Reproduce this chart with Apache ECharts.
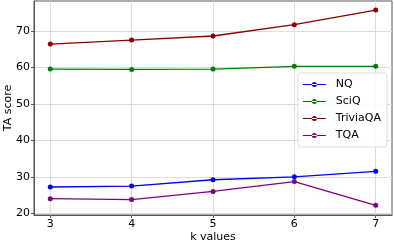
<!DOCTYPE html>
<html><head><meta charset="utf-8">
<script src="https://cdn.jsdelivr.net/npm/echarts@6/dist/echarts.min.js"></script>
<style>html,body{margin:0;padding:0;background:#fff}#c{width:394px;height:244px}</style>
</head><body><div id="c"></div>
<script>
const kValues = [3, 4, 5, 6, 7];
const nq = [27.2, 27.45, 29.2, 30.0, 31.5];
const sciq = [59.55, 59.45, 59.55, 60.3, 60.3];
const triviaqa = [66.4, 67.5, 68.6, 71.7, 75.7];
const tqa = [24.0, 23.75, 26.0, 28.7, 22.2];
const yTicks = [20, 30, 40, 50, 60, 70];
const seriesNames = ['NQ', 'SciQ', 'TriviaQA', 'TQA'];
const seriesColors = ['#0000ff', '#008000', '#8b0000', '#800080'];
const seriesData = [nq, sciq, triviaqa, tqa];

const font = 'DejaVu Sans';
const legendIcon = 'path://M0,2 L23,2 L23,3.2 L0,3.2 Z M9,2.6 A2.5,2.5 0 1,0 14,2.6 A2.5,2.5 0 1,0 9,2.6 Z M0,0 L0.01,0 L0.01,0.01 Z M0,5.2 L0.01,5.2 L0.01,5.19 Z';
const chart = echarts.init(document.getElementById('c'));
chart.setOption({
  animation: false,
  textStyle: {fontFamily: font},
  grid: {left: 34, right: 2, top: 1, bottom: 29, outerBoundsMode: 'none', containLabel: false,
         show: true, borderColor: '#555', borderWidth: 1, backgroundColor: 'transparent'},
  legend: {
    right: 7, top: 73, orient: 'vertical', itemGap: 6, itemWidth: 23, itemHeight: 5.2,
    backgroundColor: 'rgba(255,255,255,0.85)', borderColor: '#ddd', borderWidth: 1, borderRadius: 3,
    padding: [6, 6, 6, 5],
    textStyle: {fontFamily: font, fontSize: 11, color: '#000', padding: [0, 0, 0, 5]},
    data: seriesNames.map(n => ({name: n, icon: legendIcon}))
  },
  xAxis: {
    type: 'value', min: 2.8, max: 7.2,
    name: 'k values', nameLocation: 'middle', nameGap: 17, nameMoveOverlap: false,
    nameTextStyle: {fontFamily: font, fontSize: 11, color: '#000'},
    axisLine: {show: true, onZero: false, lineStyle: {color: '#555', width: 1}},
    axisTick: {show: true, length: 3, customValues: kValues, lineStyle: {color: '#555'}},
    axisLabel: {customValues: kValues, fontFamily: font, fontSize: 11, color: '#000', margin: 4},
    splitLine: {show: true, lineStyle: {color: '#dcdcdc', width: 1}}
  },
  yAxis: {
    type: 'value', min: 19.53, max: 78.2,
    name: 'TA score', nameLocation: 'middle', nameGap: 26, nameMoveOverlap: false,
    nameTextStyle: {fontFamily: font, fontSize: 11, color: '#000', verticalAlign: 'middle'},
    axisLine: {show: true, lineStyle: {color: '#555', width: 1}},
    axisTick: {show: true, length: 3, customValues: yTicks, lineStyle: {color: '#555'}},
    axisLabel: {customValues: yTicks, fontFamily: font, fontSize: 11, color: '#000', margin: 4},
    splitLine: {show: true, lineStyle: {color: '#dcdcdc', width: 1}}
  },
  series: seriesNames.map((n, i) => ({
    name: n, type: 'line',
    data: kValues.map((k, j) => [k, seriesData[i][j]]),
    symbol: 'circle', symbolSize: 5,
    lineStyle: {color: seriesColors[i], width: 1.3},
    itemStyle: {color: seriesColors[i]}
  }))
});
</script></body></html>
